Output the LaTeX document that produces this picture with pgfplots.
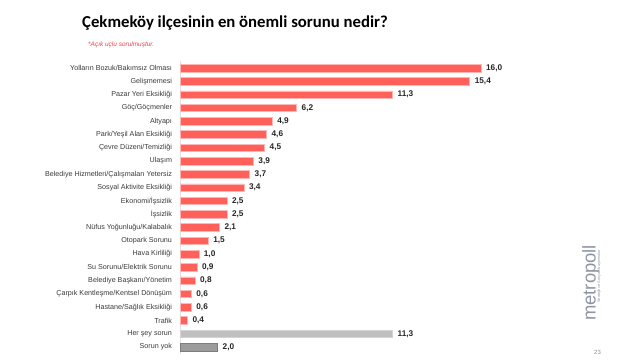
\documentclass[border=0pt]{standalone}
\usepackage{fontspec}
\setmainfont{Liberation Sans}
\newfontfamily\titlefont{Carlito}
\usepackage{pgfplots}
\pgfplotsset{compat=1.18}
\definecolor{barred}{HTML}{FF605A}
\definecolor{lgray}{HTML}{C0C0C0}
\definecolor{dgray}{HTML}{9C9C9C}
\definecolor{labelcol}{HTML}{3A3A3A}
\definecolor{logocol}{HTML}{8C96A5}
\definecolor{subred}{HTML}{F0404A}
\begin{document}
\begin{tikzpicture}
\path (0bp,0bp) rectangle (624bp,364bp);
\node[font=\titlefont\bfseries\fontsize{16.8}{20}\selectfont, anchor=base west, inner sep=0pt] at (82bp,336bp) {Çekmeköy ilçesinin en önemli sorunu nedir?};
\node[font=\itshape\fontsize{6.5}{7}\selectfont, text=subred, anchor=base west, inner sep=0pt] at (88bp,317bp) {*Açık uçlu sorulmuştur.};
\begin{axis}[
  at={(180bp,302.6bp)}, anchor=north west,
  scale only axis, width=301bp, height=292.3bp,
  xmin=0, xmax=16, ymin=-0.5, ymax=21.5, y dir=reverse,
  xbar, bar width=7.5bp, bar shift=0pt,
  axis x line=none, axis y line*=left,
  axis line style={draw=black!12, line width=0.6pt},
  clip=false,
  ytick={0,...,21}, major tick length=0pt,
  yticklabels={Yolların Bozuk/Bakımsız Olması, Gelişmemesi, Pazar Yeri Eksikliği, Göç/Göçmenler, Altyapı, Park/Yeşil Alan Eksikliği, Çevre Düzeni/Temizliği, Ulaşım, Belediye Hizmetleri/Çalışmaları Yetersiz, Sosyal Aktivite Eksikliği, Ekonomi/İşsizlik, İşsizlik, Nüfus Yoğunluğu/Kalabalık, Otopark Sorunu, Hava Kirliliği, Su Sorunu/Elektrik Sorunu, Belediye Başkanı/Yönetim, Çarpık Kentleşme/Kentsel Dönüşüm, Hastane/Sağlık Eksikliği, Trafik, Her şey sorun, Sorun yok},
  yticklabel style={font=\fontsize{7.2}{8}\selectfont, text=labelcol, xshift=-4.5bp},
  point meta=x,
  nodes near coords={\pgfmathprintnumber[fixed,fixed zerofill,precision=1,use comma,assume math mode=true]{\pgfplotspointmeta}},
  nodes near coords style={font=\bfseries\fontsize{8.3}{9}\selectfont, text=black!85, anchor=west, xshift=1.5bp},
]
\addplot[fill=barred, draw=barred!45, line width=0.5pt] coordinates {
(16.0,0) (15.4,1) (11.3,2) (6.2,3) (4.9,4) (4.6,5) (4.5,6) (3.9,7) (3.7,8) (3.4,9)
(2.5,10) (2.5,11) (2.1,12) (1.5,13) (1.0,14) (0.9,15) (0.8,16) (0.6,17) (0.6,18) (0.4,19)
};
\addplot[fill=lgray, draw=lgray!70, line width=0.5pt] coordinates {(11.3,20)};
\addplot[fill=dgray, draw=dgray!80!black, line width=0.5pt] coordinates {(2.0,21)};
\end{axis}
\node[rotate=90, anchor=base west, font=\fontsize{18.5}{18}\selectfont, text=logocol, inner sep=0pt] at (595.5bp,43bp) {metropoll};
\node[rotate=90, anchor=base west, font=\fontsize{3.8}{4}\selectfont, text=logocol, inner sep=0pt] at (600bp,61bp) {Stratejik ve Sosyal Araştırmalar};
\node[font=\fontsize{6}{7}\selectfont, text=black!45, anchor=base west, inner sep=0pt] at (594bp,10bp) {23};
\end{tikzpicture}
\end{document}
